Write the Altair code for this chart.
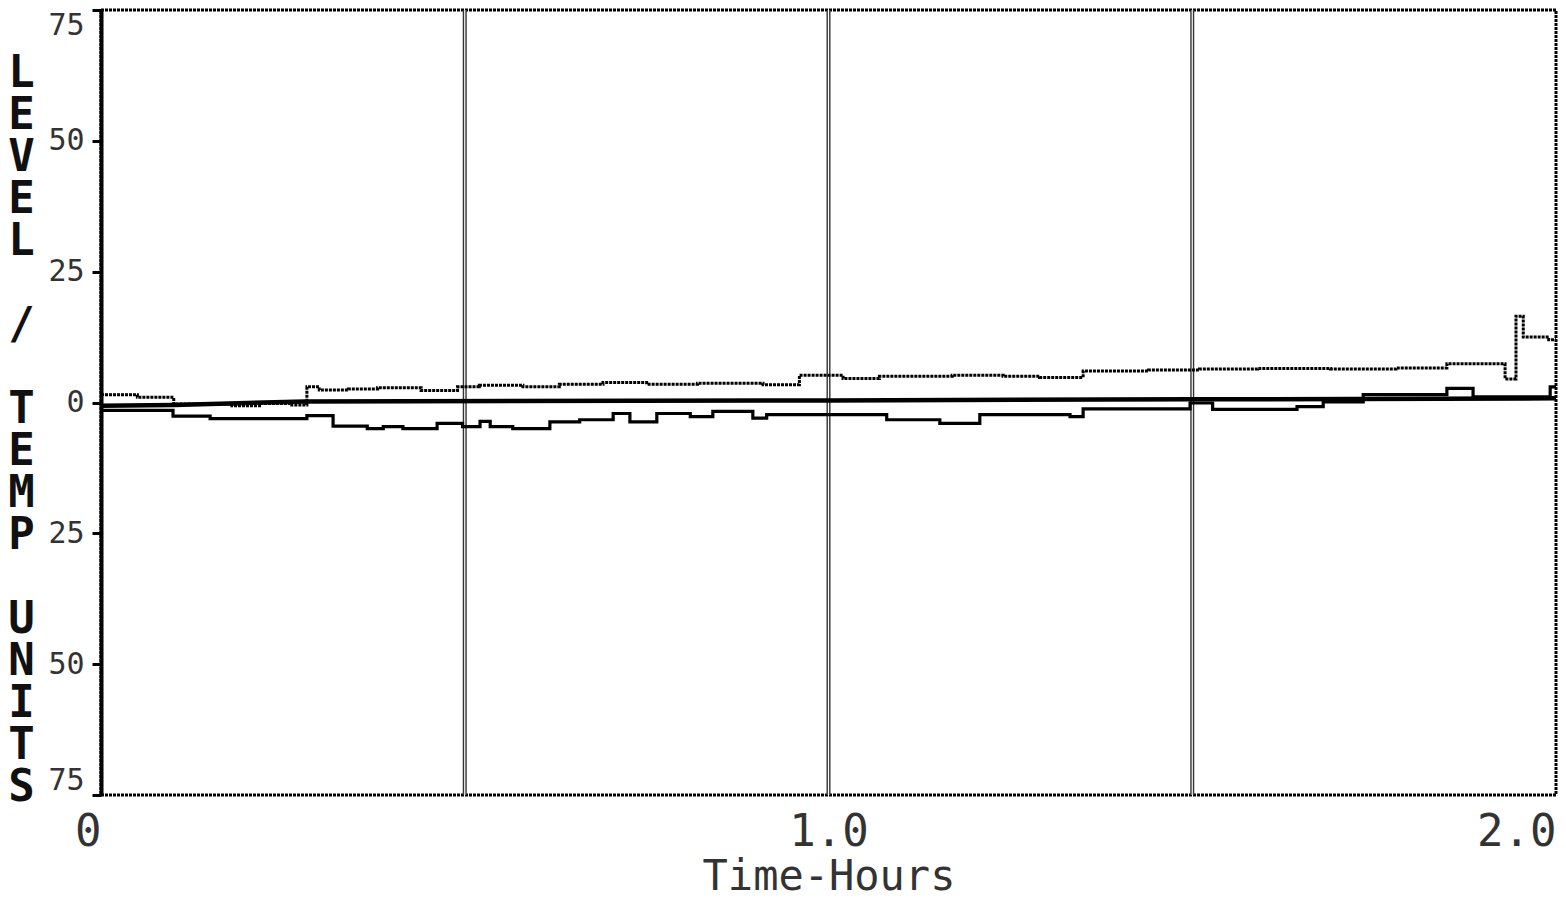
import altair as alt
import pandas as pd

# ---- data ----
upper_t = [0.0, 0.05, 0.10, 0.18, 0.22, 0.26, 0.283, 0.30, 0.34, 0.38, 0.44, 0.49, 0.52, 0.58, 0.63, 0.69,
           0.75, 0.82, 0.91, 0.96, 1.02, 1.07, 1.17, 1.24, 1.29, 1.35, 1.44, 1.51, 1.59, 1.69, 1.78, 1.85,
           1.93, 1.945, 1.955, 1.99, 2.0]
upper_v = [1.5, 1.0, -0.3, -0.6, -0.2, -0.5, 3.0, 2.4, 2.6, 2.8, 2.3, 3.0, 3.3, 3.0, 3.5, 3.8,
           3.5, 3.7, 3.4, 5.2, 4.6, 5.0, 5.2, 5.0, 4.8, 6.0, 6.2, 6.4, 6.5, 6.4, 6.6, 7.4,
           4.5, 16.5, 12.5, 12.0, 12.0]

thick_t = [0.0, 0.10, 0.28, 1.0, 1.5, 2.0]
thick_v = [-0.6, -0.5, 0.2, 0.4, 0.6, 0.8]

lower_t = [0.0, 0.099, 0.15, 0.283, 0.319, 0.366, 0.388, 0.415, 0.462, 0.497, 0.521, 0.535, 0.566, 0.617,
           0.658, 0.704, 0.727, 0.764, 0.81, 0.841, 0.896, 0.915, 1.02, 1.08, 1.153, 1.208, 1.332, 1.35,
           1.497, 1.528, 1.644, 1.68, 1.735, 1.85, 1.886, 1.992, 2.0]
lower_v = [-1.5, -2.6, -3.1, -2.5, -4.5, -5.0, -4.6, -5.0, -4.0, -4.6, -3.6, -4.6, -5.0, -3.7,
           -3.3, -2.1, -3.7, -2.1, -2.7, -1.7, -3.0, -2.3, -2.3, -3.3, -4.0, -2.3, -2.7, -1.2,
           -0.1, -1.3, -0.8, 0.1, 1.5, 2.7, 1.1, 3.0, 3.0]

grid_t = [0.5, 1.0, 1.5]
y_ticks = [-75, -50, -25, 0, 25, 50, 75]
x_ticks = [0, 1, 2]
BL = "\u2800"  # blank line in the stacked title
y_title = ["L", "E", "V", "E", "L", BL, "/", BL, "T", "E", "M", "P", BL, "U", "N", "I", "T", "S"]

FONT = "DejaVu Sans Mono"

df_up = pd.DataFrame({"t": upper_t, "v": upper_v})
df_th = pd.DataFrame({"t": thick_t, "v": thick_v})
df_lo = pd.DataFrame({"t": lower_t, "v": lower_v})
df_grid = pd.DataFrame({"t": grid_t})

xscale = alt.Scale(domain=[0, 2], nice=False, zero=False)
yscale = alt.Scale(domain=[-75, 75], nice=False, zero=False)

x_axis = alt.Axis(
    values=x_ticks, title="Time-Hours", grid=False, ticks=False, domain=False,
    labelExpr="datum.value == 0 ? '0' : format(datum.value, '.1f')",
    labelAlign={"condition": {"test": "datum.value == 1", "value": "center"}, "value": "right"},
    labelFont=FONT, labelFontSize=44, labelColor="#333", labelPadding=15,
    titleFont=FONT, titleFontSize=42, titleFontWeight="normal", titleColor="#333", titlePadding=2,
)
y_axis = alt.Axis(
    values=y_ticks, title=y_title, grid=False,
    labelExpr="abs(datum.value)", labelFlush=True,
    labelFont=FONT, labelFontSize=30, labelColor="#333", labelPadding=8,
    tickSize=9, tickWidth=3, tickColor="black",
    domainColor="black", domainWidth=4,
    titleAngle=0, titleX=-80, titleY=41, titleAlign="center", titleBaseline="top",
    titleFont=FONT, titleFontSize=44, titleFontWeight="bold", titleColor="#111", titleLineHeight=42,
)

grid_outer = alt.Chart(df_grid).mark_rule(color="#333", strokeWidth=4).encode(
    x=alt.X("t:Q", scale=xscale, axis=x_axis)
)
grid_inner = alt.Chart(df_grid).mark_rule(color="white", strokeWidth=1.2).encode(
    x=alt.X("t:Q", scale=xscale)
)

upper = alt.Chart(df_up).mark_line(color="black", strokeWidth=3, interpolate="step-after",
                                   strokeDash=[3, 1]).encode(
    x=alt.X("t:Q", scale=xscale),
    y=alt.Y("v:Q", scale=yscale, axis=y_axis),
)
thick = alt.Chart(df_th).mark_line(color="black", strokeWidth=4.5).encode(
    x=alt.X("t:Q", scale=xscale),
    y=alt.Y("v:Q", scale=yscale),
)
lower = alt.Chart(df_lo).mark_line(color="black", strokeWidth=3.2, interpolate="step-after").encode(
    x=alt.X("t:Q", scale=xscale),
    y=alt.Y("v:Q", scale=yscale),
)

chart = alt.layer(grid_outer, grid_inner, upper, thick, lower).properties(
    width=1455, height=785,
    background="white",
    autosize=alt.AutoSizeParams(type="none"),
    padding={"left": 93, "top": 2, "right": 2, "bottom": 98},
).configure_view(
    stroke="black", strokeWidth=3, strokeDash=[3, 1]
)

chart.save("out.html", embed_options={"renderer": "svg", "actions": False})
